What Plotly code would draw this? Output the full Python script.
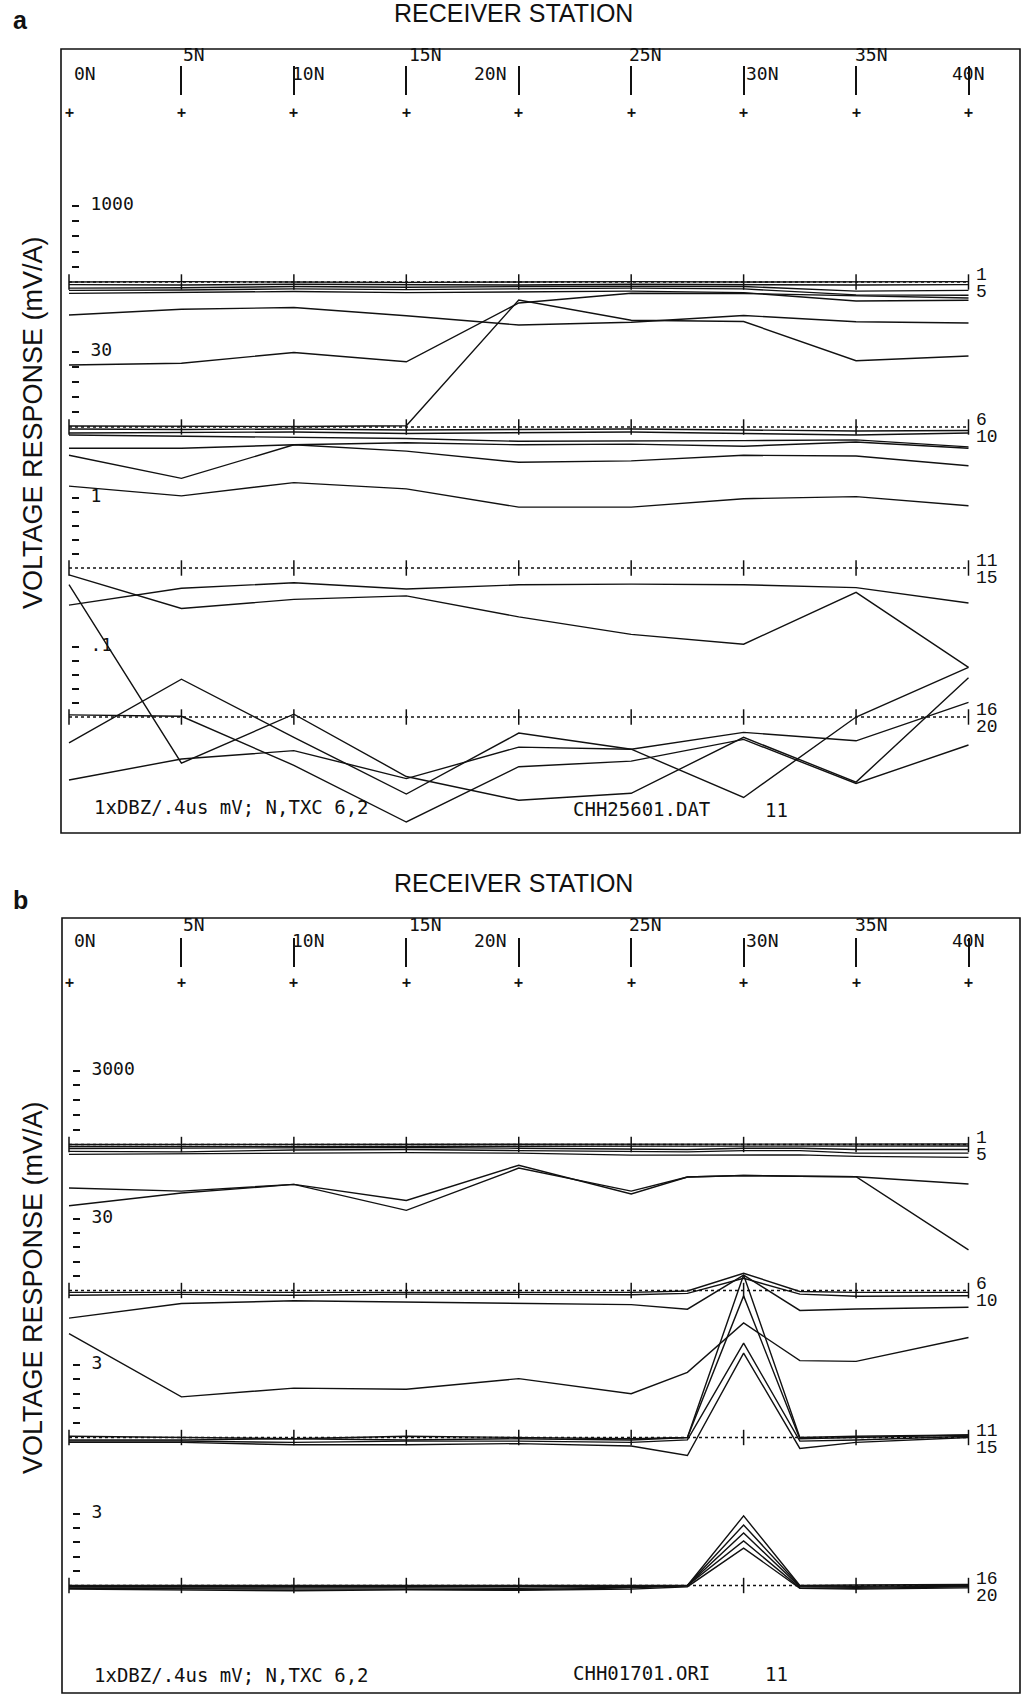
import plotly.graph_objects as go

# ------------------------------------------------------------------ stations
stations_a = [0, 5, 10, 15, 20, 25, 30, 35, 40]
stations_b = [0, 5, 10, 15, 20, 25, 27.5, 30, 32.5, 35, 40]
station_names = ["0N", "5N", "10N", "15N", "20N", "25N", "30N", "35N", "40N"]

# ------------------------------------------------------------------ profile a  (CHH25601.DAT)
a_scale_values = [1000, 30, 1, 0.1]
a_scale_labels = ["1000", "30", "1", ".1"]

# channels 1-5 (mV/A)
a_ch01_05 = [
    [0, 5, 0, -5, 0, 5, 0, 0, 5],
    [-35, -40, -30, -35, -40, -30, -35, -40, -35],
    [-80, -75, -60, -70, -60, -55, -60, -120, -110],
    [-110, -105, -90, -100, -90, -80, -90, -170, -175],
    [-150, -140, -125, -140, -130, -120, -140, -250, -240],
]
# channels 6-10
a_ch06_10 = [
    [44.8, 47.1, 47.8, 44.5, 40.8, 41.9, 44.6, 42.1, 41.6],
    [24.8, 25.5, 29.8, 26.1, 49.6, 53.5, 53.4, 52.5, 51.6],
    [0.4, 0.3, 0.2, 0.5, 50.8, 42.7, 42.2, 26.5, 28.4],
    [-0.8, -1.0, -0.8, -1.2, -1.0, -0.8, -1.2, -1.6, -1.4],
    [-2.4, -2.2, -2.0, -2.6, -2.4, -2.0, -2.6, -3.2, -2.4],
]
# channels 11-15
a_ch11_15 = [
    [1.90, 1.88, 1.86, 1.85, 1.81, 1.81, 1.82, 1.83, 1.73],
    [1.71, 1.71, 1.76, 1.67, 1.51, 1.53, 1.61, 1.60, 1.46],
    [1.61, 1.28, 1.76, 1.79, 1.76, 1.77, 1.74, 1.80, 1.71],
    [1.17, 1.03, 1.22, 1.13, 0.87, 0.87, 0.99, 1.02, 0.89],
    [-0.53, -0.29, -0.21, -0.30, -0.24, -0.23, -0.24, -0.28, -0.50],
]
# channels 16-20
a_ch16_20 = [
    [0.203, 0.155, 0.168, 0.173, 0.143, 0.118, 0.104, 0.178, 0.071],
    [0.189, -0.066, 0.004, -0.085, -0.119, -0.109, -0.029, -0.093, 0.056],
    [-0.037, 0.054, -0.029, -0.110, -0.023, -0.046, -0.115, 0.000, 0.071],
    [0.003, 0.001, -0.069, -0.150, -0.071, -0.063, -0.032, -0.095, -0.040],
    [-0.090, -0.060, -0.048, -0.088, -0.043, -0.046, -0.022, -0.034, 0.021],
]

# ------------------------------------------------------------------ profile b  (CHH01701.ORI)
b_scale_values = [3000, 30, 3, 3]
b_scale_labels = ["3000", "30", "3", "3"]

b_ch01_05 = [
    [0, 0, 10, 0, 0, 10, 10, 0, 0, 10, 20],
    [-80, -80, -60, -80, -60, -60, -60, -60, -60, -60, -60],
    [-160, -150, -140, -120, -150, -200, -200, -150, -150, -200, -200],
    [-280, -300, -220, -200, -250, -300, -300, -250, -250, -350, -350],
    [-400, -380, -350, -330, -350, -430, -430, -420, -420, -480, -520],
]
b_ch06_10 = [
    [42.7, 41.4, 44.2, 37.5, 52.2, 40.2, 47.3, 47.9, 47.6, 47.4, 44.4],
    [35.3, 40.6, 44.2, 33.4, 51.0, 41.4, 47.3, 47.9, 47.6, 47.4, 16.9],
    [-0.8, -0.8, -0.8, -0.8, -0.8, -0.8, -0.2, 7.2, -0.4, -0.8, -0.8],
    [-2.0, -1.6, -2.0, -1.5, -1.6, -1.8, -1.2, 5.1, -1.5, -2.4, -2.2],
    [-11.5, -5.4, -4.3, -4.8, -5.3, -5.9, -7.8, 6.4, -8.3, -7.7, -7.0],
]
b_ch11_15 = [
    [4.27, 1.67, 2.03, 1.98, 2.42, 1.80, 2.68, 4.71, 3.16, 3.13, 4.11],
    [0.05, 0.0, -0.05, 0.05, 0.0, -0.05, 0.0, 6.68, 0.0, 0.05, 0.10],
    [-0.10, -0.10, -0.05, -0.10, -0.05, -0.10, 0.0, 5.82, -0.05, 0.0, 0.10],
    [-0.15, -0.15, -0.20, -0.15, -0.15, -0.20, -0.10, 3.88, -0.15, -0.10, 0.05],
    [-0.20, -0.20, -0.30, -0.30, -0.25, -0.35, -0.74, 3.47, -0.45, -0.20, 0.0],
]
b_ch16_20 = [
    [0.0, 0.0, 0.02, 0.0, 0.02, 0.0, 0.0, 2.90, 0.0, 0.02, 0.04],
    [-0.05, -0.05, -0.03, -0.05, -0.05, -0.05, 0.0, 2.52, -0.02, -0.03, 0.0],
    [-0.10, -0.10, -0.08, -0.10, -0.12, -0.08, 0.0, 2.19, -0.05, -0.08, -0.02],
    [-0.12, -0.15, -0.15, -0.15, -0.18, -0.10, 0.0, 1.86, -0.10, -0.12, -0.05],
    [-0.15, -0.20, -0.22, -0.18, -0.20, -0.15, -0.05, 1.56, -0.12, -0.15, -0.10],
]

# ------------------------------------------------------------------ page geometry
W, H = 1026, 1701
INK = "#111111"
MONO = "DejaVu Sans Mono"
SANS = "Liberation Sans"


def fx(p):
    return p / W


def fy(p):
    return 1 - p / H


X0_PX, X40_PX = 69, 968.5          # pixel position of stations 0N and 40N
PX_PER_UNIT = (X40_PX - X0_PX) / 40

panels = [
    dict(letter="a", stations=stations_a,
         bands=[a_ch01_05, a_ch06_10, a_ch11_15, a_ch16_20],
         scale_values=a_scale_values, scale_labels=a_scale_labels,
         frame=(61, 1020, 49, 833),
         band_px=[(206, 282), (352, 427), (498, 568), (647, 717)],
         tick_row=95, cross_row=113, label_rows=(55, 74),
         title_y=13, letter_y=20, ytitle_y=423,
         file_name="CHH25601.DAT", footer_y=(807, 809)),
    dict(letter="b", stations=stations_b,
         bands=[b_ch01_05, b_ch06_10, b_ch11_15, b_ch16_20],
         scale_values=b_scale_values, scale_labels=b_scale_labels,
         frame=(62, 1020, 918, 1693),
         band_px=[(1070.5, 1144.5), (1218.5, 1290.5), (1364.5, 1437.5), (1513.5, 1585.5)],
         tick_row=967, cross_row=983, label_rows=(924, 940),
         title_y=883, letter_y=900, ytitle_y=1288,
         file_name="CHH01701.ORI", footer_y=(1675, 1673)),
]

# placement of each station name: (row, xanchor, xshift)
label_style = [
    (1, "left", 3), (0, "left", 0), (1, "left", -4), (0, "left", 1), (1, "right", -10),
    (0, "left", -4), (1, "left", 0), (0, "left", -3), (1, "center", 0),
]

fig = go.Figure()
layout = dict(
    width=W, height=H, margin=dict(l=0, r=0, t=0, b=0),
    paper_bgcolor="white", plot_bgcolor="white", showlegend=False,
)
annotations = []
shapes = []

for p, pan in enumerate(panels):
    left, right, top, bottom = pan["frame"]
    xname = "xaxis" if p == 0 else "xaxis2"
    xref = "x" if p == 0 else "x2"
    ydom = [fy(bottom), fy(top)]
    layout[xname] = dict(
        domain=[fx(left), fx(right)],
        range=[(left - X0_PX) / PX_PER_UNIT, (right - X0_PX) / PX_PER_UNIT],
        side="top", anchor="free", position=fy(pan["tick_row"]),
        tickvals=stations_a, ticks="outside", ticklen=29, tickwidth=1.6,
        tickcolor=INK, showticklabels=False, showgrid=False, zeroline=False,
        showline=False, fixedrange=True,
    )
    base_ref = None
    for k, (chans, vfull, vtxt, (plabel, pzero)) in enumerate(
            zip(pan["bands"], pan["scale_values"], pan["scale_labels"], pan["band_px"])):
        n = 4 * p + k + 1
        yname = "yaxis" if n == 1 else f"yaxis{n}"
        yref = "y" if n == 1 else f"y{n}"
        per_px = vfull / (pzero - plabel)
        ax = dict(
            domain=ydom,
            range=[-(bottom - pzero) * per_px, (pzero - top) * per_px],
            anchor="free", position=fx(left + 10),
            tickvals=[vfull * i / 5 for i in range(1, 6)],
            ticktext=["", "", "", "", vtxt],
            ticks="inside", ticklen=7, tickwidth=1.6, tickcolor=INK,
            ticklabelposition="inside", ticklabelstandoff=12, ticklabelshift=-2,
            tickfont=dict(family=MONO, size=18, color=INK),
            showgrid=False, zeroline=False, showline=False, fixedrange=True,
        )
        if base_ref is None:
            base_ref = yref
        else:
            ax["overlaying"] = base_ref
        layout[yname] = ax

        # dotted zero line of the channel group, with station marks
        fig.add_trace(go.Scatter(
            x=[pan["stations"][0], pan["stations"][-1]], y=[0, 0], mode="lines",
            line=dict(color=INK, width=1.3, dash="dot"),
            xaxis=xref, yaxis=yref, hoverinfo="skip"))
        fig.add_trace(go.Scatter(
            x=stations_a, y=[0] * len(stations_a), mode="markers",
            marker=dict(symbol="line-ns", size=11, color=INK,
                        line=dict(color=INK, width=1.5)),
            xaxis=xref, yaxis=yref, hoverinfo="skip"))

        # channel profiles
        for vals in chans:
            fig.add_trace(go.Scatter(
                x=pan["stations"], y=vals, mode="lines",
                line=dict(color=INK, width=1.4),
                xaxis=xref, yaxis=yref, hoverinfo="skip"))

        # channel-range labels at the right end of the group
        first, last = 5 * k + 1, 5 * k + 5
        for txt, ys in ((str(first), 7), (str(last), -10)):
            annotations.append(dict(
                x=40, y=0, xref=xref, yref=yref, text=txt, showarrow=False,
                xanchor="left", yanchor="middle", xshift=5, yshift=ys,
                font=dict(family="Liberation Mono", size=18, color=INK)))

    # station names along the top
    for st, name, (row, anc, shift) in zip(stations_a, station_names, label_style):
        annotations.append(dict(
            x=st, y=fy(pan["label_rows"][row]), xref=xref, yref="paper",
            text=name, showarrow=False, xanchor=anc, yanchor="middle", xshift=shift,
            font=dict(family=MONO, size=18, color=INK)))
        annotations.append(dict(
            x=st, y=fy(pan["cross_row"]), xref=xref, yref="paper",
            text="<b>+</b>", showarrow=False, xanchor="center", yanchor="middle",
            font=dict(family=MONO, size=15, color=INK)))

    # frame
    shapes.append(dict(type="rect", xref="paper", yref="paper",
                       x0=fx(left), x1=fx(right), y0=fy(bottom), y1=fy(top),
                       line=dict(color=INK, width=1.6)))

    # titles and footer text
    annotations += [
        dict(x=fx(513), y=fy(pan["title_y"]), xref="paper", yref="paper",
             text="RECEIVER STATION", showarrow=False, xanchor="center", yanchor="middle",
             font=dict(family=SANS, size=25, color=INK)),
        dict(x=fx(20), y=fy(pan["letter_y"]), xref="paper", yref="paper",
             text="<b>%s</b>" % pan["letter"], showarrow=False, xanchor="center",
             yanchor="middle", font=dict(family=SANS, size=25, color=INK)),
        dict(x=fx(33), y=fy(pan["ytitle_y"]), xref="paper", yref="paper",
             text="VOLTAGE RESPONSE (mV/A)", showarrow=False, textangle=-90,
             xanchor="center", yanchor="middle",
             font=dict(family=SANS, size=27, color=INK)),
        dict(x=fx(92), y=fy(pan["footer_y"][0]), xref="paper", yref="paper",
             text="1xDBZ/.4us mV; N,TXC 6,2", showarrow=False, xanchor="left",
             yanchor="middle", font=dict(family=MONO, size=19, color=INK)),
        dict(x=fx(571), y=fy(pan["footer_y"][1]), xref="paper", yref="paper",
             text=pan["file_name"], showarrow=False, xanchor="left",
             yanchor="middle", font=dict(family=MONO, size=19, color=INK)),
        dict(x=fx(763), y=fy(pan["footer_y"][1] + 1), xref="paper", yref="paper",
             text="11", showarrow=False, xanchor="left",
             yanchor="middle", font=dict(family=MONO, size=19, color=INK)),
    ]

layout["annotations"] = annotations
layout["shapes"] = shapes
fig.update_layout(**layout)
fig.write_html("out.html")
